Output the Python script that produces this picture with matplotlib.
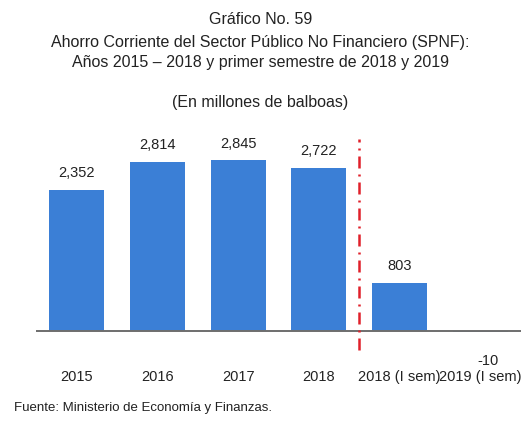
import matplotlib.pyplot as plt

categories = ['2015', '2016', '2017', '2018', '2018 (I sem)', '2019 (I sem)']
values = [2352, 2814, 2845, 2722, 803, -10]
labels = ['2,352', '2,814', '2,845', '2,722', '803', '-10']

plt.rcParams['font.family'] = ['Liberation Sans', 'DejaVu Sans']

fig = plt.figure(figsize=(5.21, 4.25), dpi=100)
ax = fig.add_axes([36 / 521, 80 / 425, 485 / 521, 220 / 425])

x = range(len(categories))
ax.bar(x, values, width=0.68, color='#3b7fd6', edgecolor='none', zorder=2)

for i, (v, lab) in enumerate(zip(values, labels)):
    if v >= 0:
        ax.annotate(lab, (i, v), xytext=(0, 7), textcoords='offset points',
                    ha='center', va='bottom', fontsize=10.5, color='#222222')
    else:
        ax.annotate(lab, (i, v), xytext=(5, -16), textcoords='offset points',
                    ha='center', va='top', fontsize=10.5, color='#222222')

ax.set_xlim(-0.5, 5.5)
ax.set_ylim(-233, 3433)

# axis line at zero
ax.axhline(0, color='#6e6e6e', lw=1.4, zorder=3)

# divider between annual and semester data
ax.plot([3.5, 3.5], [-317, 3200], color='#e0202a', lw=1.8,
        dashes=(4.8, 2.4, 0.8, 2.4), clip_on=False, zorder=4)

for s in ax.spines.values():
    s.set_visible(False)
ax.set_yticks([])
ax.set_xticks(list(x))
ax.set_xticklabels(categories, fontsize=10.5, color='#222222')
ax.tick_params(axis='x', length=0, pad=18)

fig.text(0.5, 1 - 20 / 425, 'Gráfico No. 59', ha='center', va='center', fontsize=11.5, color='#222222')
fig.text(0.5, 1 - 42 / 425, 'Ahorro Corriente del Sector Público No Financiero (SPNF):',
         ha='center', va='center', fontsize=11.5, color='#222222')
fig.text(0.5, 1 - 63 / 425, 'Años 2015 – 2018 y primer semestre de 2018 y 2019',
         ha='center', va='center', fontsize=11.5, color='#222222')
fig.text(0.5, 1 - 102 / 425, '(En millones de balboas)', ha='center', va='center',
         fontsize=11.5, color='#222222')
fig.text(14 / 521, 1 - 408 / 425, 'Fuente: Ministerio de Economía y Finanzas.',
         ha='left', va='center', fontsize=9.5, color='#222222')

fig.savefig('out.png', dpi=100)
